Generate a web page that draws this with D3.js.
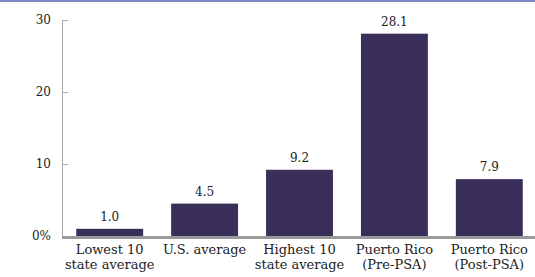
<!DOCTYPE html>
<html><head><meta charset="utf-8">
<script src="https://cdn.jsdelivr.net/npm/d3@7/dist/d3.min.js"></script>
<style>body{margin:0;background:#fff;}svg{display:block;}</style>
</head><body><svg id="c" width="535" height="277"></svg>
<script>
const categories = [["Lowest 10","state average"],["U.S. average"],["Highest 10","state average"],["Puerto Rico","(Pre-PSA)"],["Puerto Rico","(Post-PSA)"]];
const values = [1.0, 4.5, 9.2, 28.1, 7.9];
const valueLabels = ["1.0","4.5","9.2","28.1","7.9"];
const yTicks = [0, 10, 20, 30];
const yTickLabels = ["0%","10","20","30"];

const svg = d3.select("#c");
const font = "DejaVu Serif";
const x = d3.scaleBand().domain(d3.range(values.length)).range([62, 537]).paddingInner(0.295).paddingOuter(0.15);
const y = d3.scaleLinear().domain([0, 30]).range([236, 20]);

svg.append("rect").attr("x",0).attr("y",0).attr("width",535).attr("height",2).attr("fill","#7f88c6");

svg.append("line").attr("x1",62.5).attr("x2",62.5).attr("y1",y(30)).attr("y2",y(0)).attr("stroke","#aaa").attr("stroke-width",1);
const tg = svg.append("g");
yTicks.forEach((t,i)=>{
  if (t>0) tg.append("line").attr("x1",62).attr("x2",68).attr("y1",Math.round(y(t))+0.5).attr("y2",Math.round(y(t))+0.5).attr("stroke","#aaa");
  tg.append("text").attr("x",51).attr("y",y(t)).attr("dy","0.35em").attr("text-anchor","end")
    .attr("font-family",font).attr("font-size",12).attr("fill","#222").text(yTickLabels[i]);
});

svg.selectAll("rect.bar").data(values).enter().append("rect").attr("class","bar")
  .attr("x",(d,i)=>x(i)).attr("width",x.bandwidth())
  .attr("y",d=>y(d)).attr("height",d=>y(0)-y(d)).attr("fill","#3a2e5a");

svg.selectAll("text.val").data(values).enter().append("text").attr("class","val")
  .attr("x",(d,i)=>x(i)+x.bandwidth()/2).attr("y",d=>y(d)-8).attr("text-anchor","middle")
  .attr("font-family",font).attr("font-size",12).attr("fill","#222").text((d,i)=>valueLabels[i]);

svg.append("rect").attr("x",62).attr("y",y(0)).attr("width",535-62).attr("height",3).attr("fill","#9a9a9a");

categories.forEach((lines,i)=>{
  const t = svg.append("text").attr("text-anchor","middle").attr("font-family",font).attr("font-size",13).attr("fill","#222");
  lines.forEach((l,j)=>{
    t.append("tspan").attr("x",x(i)+x.bandwidth()/2).attr("y",254+j*15).text(l);
  });
});
</script></body></html>
